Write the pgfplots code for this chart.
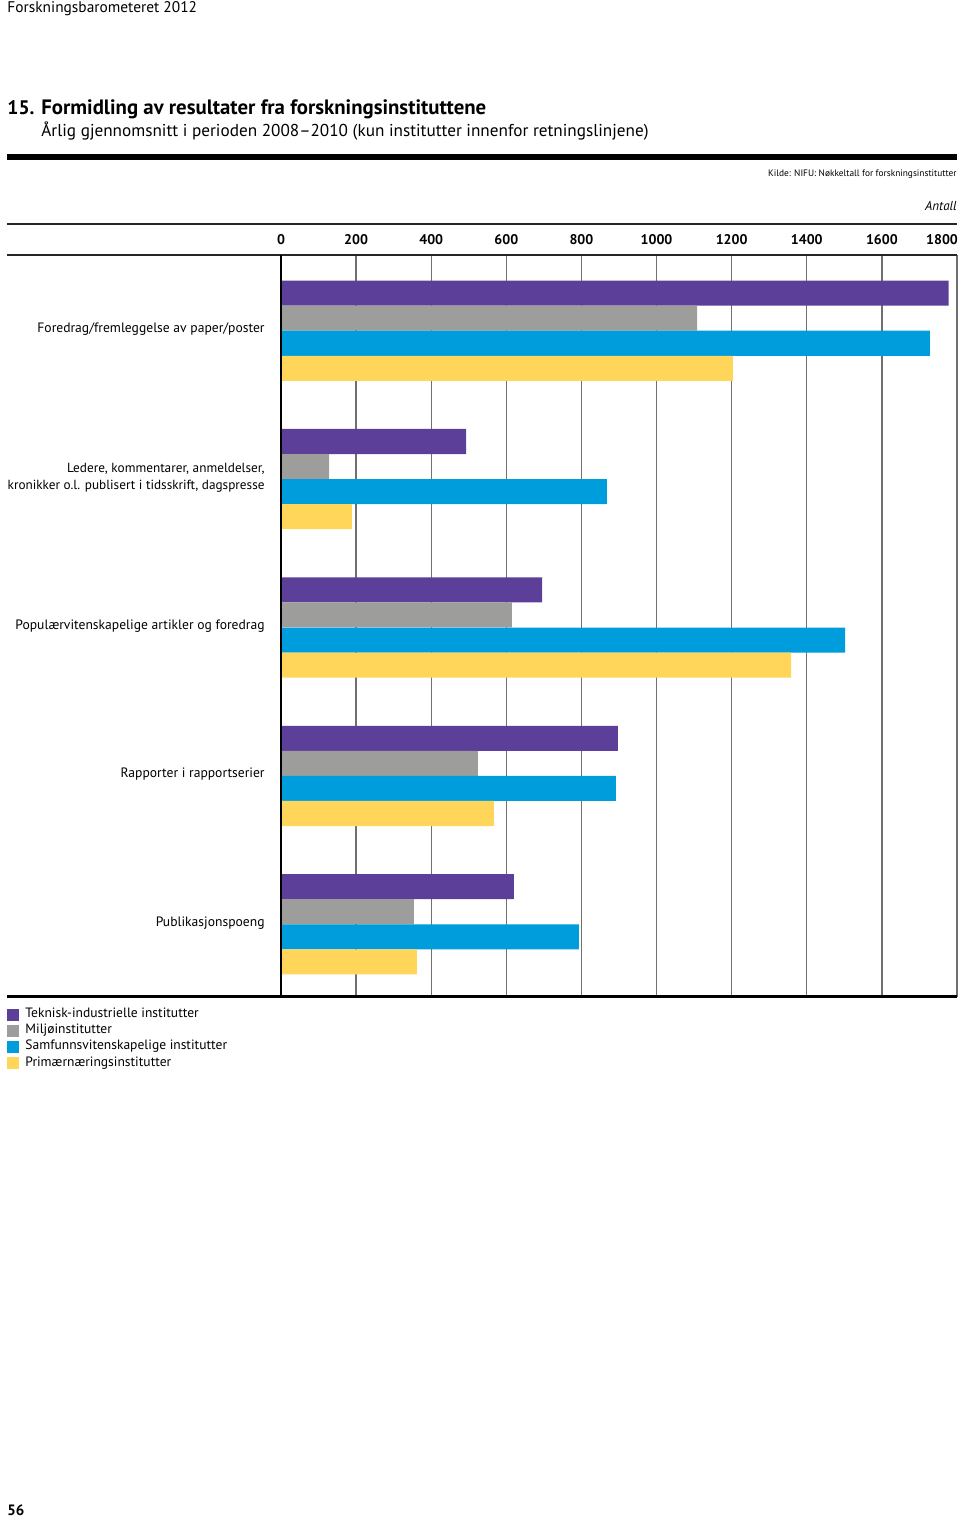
\documentclass[border=0pt]{standalone}
\usepackage{fontspec}
\setmainfont{PT Sans}
\usepackage{pgfplots}
\pgfplotsset{compat=1.18}
\definecolor{cPurple}{HTML}{5B3F98}
\definecolor{cGray}{HTML}{9D9D9C}
\definecolor{cBlue}{HTML}{009DDC}
\definecolor{cYellow}{HTML}{FFD55A}
\definecolor{cGrid}{HTML}{707070}
\begin{document}
\begin{tikzpicture}[x=0.5pt,y=0.5pt]
\path[use as bounding box] (0,0) rectangle (960,1517);
\begin{axis}[
  at={(140.5pt,260pt)}, anchor=south west,
  width=338pt, height=371pt, scale only axis,
  xbar, bar width=0.1689, bar shift=0pt,
  xmin=0, xmax=1800, ymin=-0.5, ymax=4.5, y dir=reverse,
  axis line style={draw=none},
  xtick={0,200,...,1600},
  extra x ticks={1800},
  extra x tick style={xticklabel style={xshift=-7.5pt}, grid=major},
  xticklabel pos=top,
  xticklabel style={font=\bfseries\fontsize{7}{8}\selectfont, anchor=center, yshift=7.5pt, inner sep=0pt},
  /pgf/number format/assume math mode=true,
  /pgf/number format/1000 sep={},
  scaled x ticks=false,
  xmajorgrids, grid style={draw=cGrid, line width=0.7pt},
  major tick length=0pt,
  ytick={0,1,2,3,4},
  yticklabels={Foredrag/fremleggelse av paper/poster,
    {\fontsize{6.62}{8.5}\selectfont Ledere, kommentarer, anmeldelser,\\\fontsize{6.62}{8.5}\selectfont kronikker o.l. publisert i tidsskrift, dagspresse},
    Populærvitenskapelige artikler og foredrag,
    Rapporter i rapportserier,
    Publikasjonspoeng},
  yticklabel style={font=\fontsize{6.8}{8.5}\selectfont, align=right, inner sep=0pt, xshift=-8pt, anchor=east},
  legend style={at={(-0.4053,-0.0121)}, anchor=north west, draw=none, fill=none,
    inner sep=0pt, row sep=0pt,
    font=\fontsize{6.77}{8}\selectfont,
    nodes={inner sep=0pt, text height=5.5pt, text depth=2.65pt},
    /tikz/every odd column/.append style={column sep=3pt}},
  legend cell align=left,
  legend image code/.code={\fill[#1] (0pt,-3pt) rectangle (6pt,3pt);},
]
\addplot[fill=cPurple, draw=none] coordinates {(1778,-0.2434) (493,0.7566) (695,1.7566) (897,2.7566) (620,3.7566)};
\addplot[fill=cGray, draw=none] coordinates {(1108,-0.0745) (128,0.9255) (615,1.9255) (524,2.9255) (354,3.9255)};
\addplot[fill=cBlue, draw=none] coordinates {(1728,0.0945) (868,1.0945) (1502,2.0945) (892,3.0945) (793,4.0945)};
\addplot[fill=cYellow, draw=none] coordinates {(1203,0.2634) (189,1.2634) (1358,2.2634) (567,3.2634) (362,4.2634)};
\legend{Teknisk-industrielle institutter, Miljøinstitutter, Samfunnsvitenskapelige institutter, Primærnæringsinstitutter}
\end{axis}
\draw[line width=3pt] (7,1360) -- (957,1360);
\draw[line width=0.6pt, black!85] (7,1293) -- (957,1293);
\draw[line width=0.6pt, black!85] (7,1262) -- (957,1262);
\draw[line width=1.5pt] (7,520) -- (957,520);
\draw[line width=1pt] (281,520) -- (281,1262);
\node[anchor=base west, font=\fontsize{7.7}{9}\selectfont, inner sep=0pt] at (7,1504) {Forskningsbarometeret 2012};
\node[anchor=base west, font=\bfseries\fontsize{9.8}{12}\selectfont, inner sep=0pt] at (7,1402) {15.};
\node[anchor=base west, font=\bfseries\fontsize{10.4}{12}\selectfont, inner sep=0pt] at (41,1402) {Formidling av resultater fra forskningsinstituttene};
\node[anchor=base west, font=\fontsize{8.6}{11}\selectfont, inner sep=0pt] at (41,1380) {Årlig gjennomsnitt i perioden 2008–2010 (kun institutter innenfor retningslinjene)};
\node[anchor=base east, font=\fontsize{4.68}{6}\selectfont, inner sep=0pt] at (957,1340) {Kilde: NIFU: Nøkkeltall for forskningsinstitutter};
\node[anchor=base east, font=\itshape\fontsize{6.5}{8}\selectfont, inner sep=0pt] at (957,1306) {Antall};
\node[anchor=base west, font=\bfseries\fontsize{7.5}{9}\selectfont, inner sep=0pt] at (7,2) {56};
\end{tikzpicture}
\end{document}
